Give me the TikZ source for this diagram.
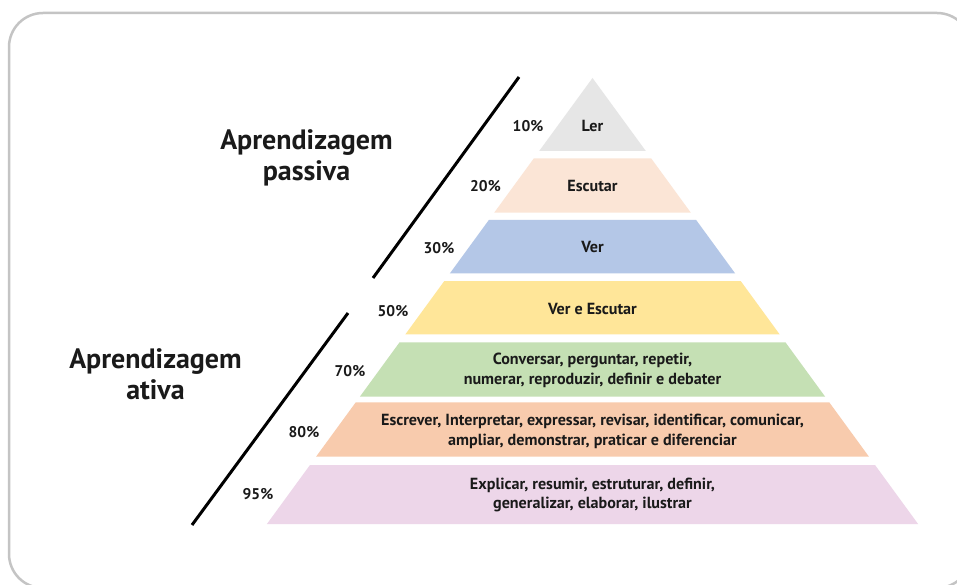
\documentclass[tikz,border=0pt]{standalone}
\usepackage{fontspec}
\setmainfont{PT Sans}
\definecolor{frameGray}{HTML}{C4C4C4}
\definecolor{inkDark}{HTML}{1A1A1A}
\definecolor{lvlRead}{HTML}{E6E6E6}
\definecolor{lvlHear}{HTML}{FBE5D6}
\definecolor{lvlSee}{HTML}{B4C7E7}
\definecolor{lvlSeeHear}{HTML}{FFE699}
\definecolor{lvlTalk}{HTML}{C5E0B4}
\definecolor{lvlWrite}{HTML}{F8CBAD}
\definecolor{lvlTeach}{HTML}{EDD6E9}
% one band of the pyramid: apex at (592.5,78), sides with slope 0.73
\newcommand\pyrband[3]{%
  \fill[#3] ({592.5-0.73*(#1-78)},#1) -- ({592.5+0.73*(#1-78)},#1)
    -- ({592.5+0.73*(#2-78)},#2) -- ({592.5-0.73*(#2-78)},#2) -- cycle;}
\begin{document}
\begin{tikzpicture}[x=1pt,y=-1pt,
  bandtext/.style={text=inkDark,font=\fontsize{16.1}{19.8}\selectfont\bfseries,align=center,inner sep=0pt},
  pcttext/.style={text=inkDark,font=\fontsize{15.5}{18}\selectfont\bfseries,anchor=east,inner sep=0pt},
  headtext/.style={text=inkDark,font=\fontsize{28}{31}\selectfont\bfseries,align=center,inner sep=0pt},
  divider/.style={line width=3pt,black}]
\clip (0,0) rectangle (957,585);
\fill[white] (0,0) rectangle (957,585);
\draw[frameGray,line width=2.5pt,rounded corners=34pt] (9,13) rectangle (971,588);

% pyramid bands
\pyrband{78}{151}{lvlRead}
\pyrband{158.3}{212.7}{lvlHear}
\pyrband{220}{273.3}{lvlSee}
\pyrband{281}{334.3}{lvlSeeHear}
\pyrband{342.3}{396.7}{lvlTalk}
\pyrband{402.3}{456.7}{lvlWrite}
\pyrband{465}{524}{lvlTeach}

% band labels
\node[bandtext] (ler) at (592.5,125.5) {Ler};
\node[bandtext] (escutar) at (592.5,185.5) {Escutar};
\node[bandtext] (ver) at (592.5,247) {Ver};
\node[bandtext] (verescutar) at (592.5,309) {Ver e Escutar};
\node[bandtext] (conversar) at (592.5,370.5) {Conversar, perguntar, repetir,\\numerar, reproduzir, definir e debater};
\node[bandtext] (escrever) at (592.5,431) {Escrever, Interpretar, expressar, revisar, identificar, comunicar,\\ampliar, demonstrar, praticar e diferenciar};
\node[bandtext] (explicar) at (592.5,495) {Explicar, resumir, estruturar, definir,\\generalizar, elaborar, ilustrar};

% retention percentages
\node[pcttext] (p10) at (543.5,126) {10\%};
\node[pcttext] (p20) at (501,186) {20\%};
\node[pcttext] (p30) at (454.5,248) {30\%};
\node[pcttext] (p50) at (408.5,311) {50\%};
\node[pcttext] (p70) at (365.5,371) {70\%};
\node[pcttext] (p80) at (319.5,432) {80\%};
\node[pcttext] (p95) at (273.5,494) {95\%};

% dividers and group headings
\coordinate (passTop) at (519,77);
\coordinate (passBot) at (373,278);
\coordinate (actTop) at (348,313);
\coordinate (actBot) at (192,525);
\draw[divider] (passTop) -- (passBot);
\draw[divider] (actTop) -- (actBot);
\node[headtext] (passiva) at (306.5,158) {Aprendizagem\\passiva};
\node[headtext] (ativa) at (155.5,374) {Aprendizagem\\ativa};
\end{tikzpicture}
\end{document}
